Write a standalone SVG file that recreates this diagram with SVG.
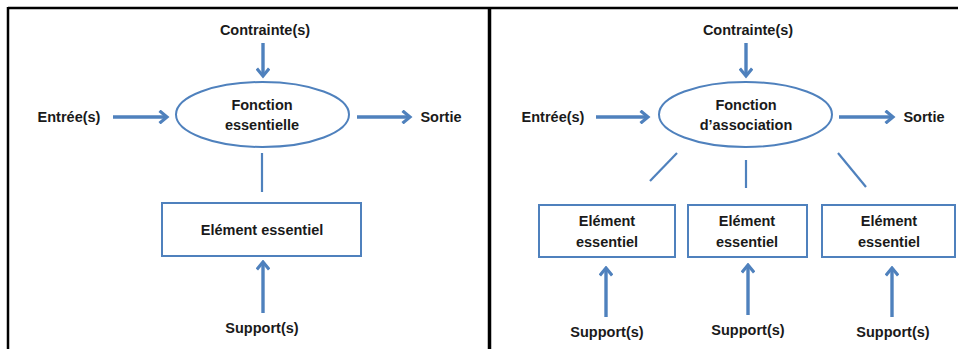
<svg xmlns="http://www.w3.org/2000/svg" width="958" height="349" viewBox="0 0 958 349">
<defs>
<style>
.frame{stroke:#000;fill:none}
.shape{fill:#fff;stroke:#4F81BD;stroke-width:2}
.con{stroke:#4F81BD;stroke-width:3.4;fill:none}
.line{stroke:#4F81BD;stroke-width:2.2;fill:none}
text{font-family:"Liberation Sans",Arial,sans-serif;font-weight:bold;font-size:14.5px;fill:#1a1a1a;text-anchor:middle}
</style>
<marker id="ah" viewBox="0 0 14 14" refX="11.5" refY="7" markerWidth="14" markerHeight="14" markerUnits="userSpaceOnUse" orient="auto">
<path d="M4,0.8 L11.5,7 L4,13.2" fill="none" stroke="#4F81BD" stroke-width="3.2"/>
</marker>
</defs>
<rect width="958" height="349" fill="#fff"/>
<g id="frames">
<line class="frame" x1="8" y1="8" x2="958" y2="8" stroke-width="2.5"/>
<line class="frame" x1="8" y1="7" x2="8" y2="349" stroke-width="2.5"/>
<line class="frame" x1="489.5" y1="7" x2="489.5" y2="349" stroke-width="3.5"/>
</g>
<g id="connectors">
<line class="con" x1="263" y1="43" x2="263" y2="76" marker-end="url(#ah)"/>
<line class="con" x1="113" y1="117" x2="167" y2="117" marker-end="url(#ah)"/>
<line class="con" x1="357" y1="117" x2="410" y2="117" marker-end="url(#ah)"/>
<line class="line" x1="262" y1="153" x2="262" y2="192"/>
<line class="con" x1="263" y1="313" x2="263" y2="262" marker-end="url(#ah)"/>
<line class="con" x1="746" y1="43" x2="746" y2="76" marker-end="url(#ah)"/>
<line class="con" x1="596" y1="117" x2="648" y2="117" marker-end="url(#ah)"/>
<line class="con" x1="839" y1="117" x2="893" y2="117" marker-end="url(#ah)"/>
<line class="line" x1="677" y1="153" x2="650" y2="181"/>
<line class="line" x1="746" y1="160" x2="746" y2="188"/>
<line class="line" x1="838" y1="153" x2="866" y2="187"/>
<line class="con" x1="606" y1="317" x2="606" y2="268" marker-end="url(#ah)"/>
<line class="con" x1="748" y1="315" x2="748" y2="265" marker-end="url(#ah)"/>
<line class="con" x1="892" y1="317" x2="892" y2="268" marker-end="url(#ah)"/>
</g>
<g id="left-contrainte"><text x="265" y="35">Contrainte(s)</text></g>
<g id="left-entree"><text x="69" y="122">Entrée(s)</text></g>
<g id="left-sortie"><text x="441" y="122">Sortie</text></g>
<g id="left-fonction">
<ellipse class="shape" cx="262.5" cy="114.5" rx="86.5" ry="32.5"/>
<text x="262" y="110">Fonction</text>
<text x="262" y="130">essentielle</text>
</g>
<g id="left-element">
<rect class="shape" x="162" y="203" width="199" height="53"/>
<text x="262" y="235">Elément essentiel</text>
</g>
<g id="left-support"><text x="262" y="333">Support(s)</text></g>
<g id="right-contrainte"><text x="748" y="35">Contrainte(s)</text></g>
<g id="right-entree"><text x="553" y="122">Entrée(s)</text></g>
<g id="right-sortie"><text x="924" y="122">Sortie</text></g>
<g id="right-fonction">
<ellipse class="shape" cx="745.5" cy="114.5" rx="86.5" ry="32.5"/>
<text x="746" y="110">Fonction</text>
<text x="746" y="130">d’association</text>
</g>
<g id="right-element-1">
<rect class="shape" x="539" y="205" width="136" height="52"/>
<text x="607" y="226">Elément</text>
<text x="607" y="247">essentiel</text>
</g>
<g id="right-element-2">
<rect class="shape" x="688" y="205" width="119" height="52"/>
<text x="747" y="226">Elément</text>
<text x="747" y="247">essentiel</text>
</g>
<g id="right-element-3">
<rect class="shape" x="822" y="205" width="133" height="52"/>
<text x="889" y="226">Elément</text>
<text x="889" y="247">essentiel</text>
</g>
<g id="right-support-1"><text x="607" y="337">Support(s)</text></g>
<g id="right-support-2"><text x="748" y="335">Support(s)</text></g>
<g id="right-support-3"><text x="893" y="337">Support(s)</text></g>
</svg>
